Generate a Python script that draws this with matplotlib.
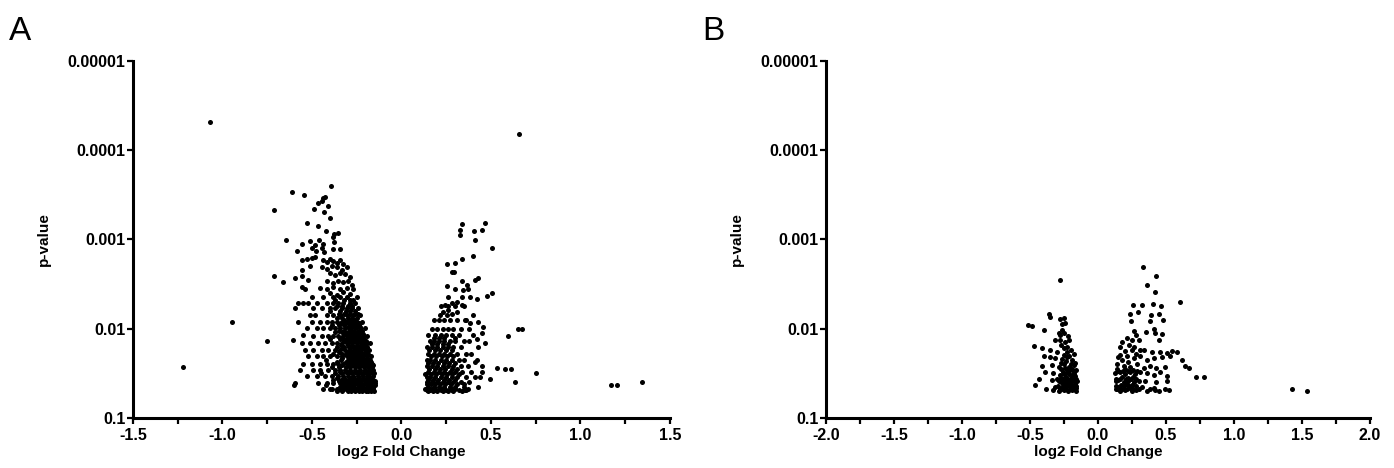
import numpy as np
import matplotlib
matplotlib.use('Agg')
import matplotlib.pyplot as plt
from matplotlib.ticker import MultipleLocator, NullLocator, FixedLocator

plt.rcParams['axes.unicode_minus'] = False
plt.rcParams['font.family'] = ['Liberation Sans', 'DejaVu Sans']

# points are (log2 fold change, -log10 p-value)
# panel A, negative side, scattered points
a_left = [(-1.071, 4.32), (-0.946, 2.07), (-0.754, 1.86), (-1.223, 1.57), (-0.714, 3.33),
          (-0.714, 2.59), (-0.664, 2.52), (-0.602, 1.37),
          (-0.396, 3.60), (-0.61, 3.53), (-0.546, 3.50), (-0.43, 3.48), (-0.44, 3.46), (-0.445, 3.43),
          (-0.465, 3.41), (-0.41, 3.38), (-0.49, 3.34), (-0.435, 3.31), (-0.40, 3.24), (-0.53, 3.19),
          (-0.468, 3.15), (-0.42, 3.10), (-0.375, 3.06), (-0.353, 3.07), (-0.38, 3.03),
          (-0.645, 2.99), (-0.51, 2.98), (-0.46, 2.99), (-0.556, 2.95), (-0.375, 2.97), (-0.483, 2.94),
          (-0.437, 2.95), (-0.50, 2.90), (-0.446, 2.90), (-0.478, 2.87), (-0.433, 2.86), (-0.38, 2.89),
          (-0.342, 2.89), (-0.582, 2.87),
          (-0.553, 2.77), (-0.53, 2.78), (-0.50, 2.79), (-0.483, 2.80), (-0.437, 2.77), (-0.418, 2.75),
          (-0.40, 2.78), (-0.38, 2.76), (-0.362, 2.74), (-0.344, 2.77), (-0.326, 2.73),
          (-0.446, 2.69), (-0.418, 2.67), (-0.39, 2.70), (-0.362, 2.69), (-0.334, 2.66), (-0.307, 2.69),
          (-0.558, 2.66), (-0.51, 2.70),
          (-0.558, 2.59), (-0.595, 2.57), (-0.52, 2.55), (-0.40, 2.62), (-0.372, 2.60), (-0.344, 2.63),
          (-0.316, 2.61), (-0.288, 2.58),
          (-0.418, 2.53), (-0.38, 2.51), (-0.353, 2.54), (-0.326, 2.52), (-0.297, 2.53), (-0.279, 2.49),
          (-0.558, 2.47), (-0.539, 2.45), (-0.455, 2.46), (-0.418, 2.44), (-0.38, 2.47), (-0.344, 2.45),
          (-0.307, 2.46), (-0.27, 2.44),
          (-0.40, 2.40), (-0.362, 2.38), (-0.326, 2.41), (-0.288, 2.39),
          (-0.549, 1.93), (-0.608, 1.87)]

# panel A, negative side, dense part: (-log10 p, [log2 FC ...])
a_left_rows = [
    (2.36, [-0.50, -0.437, -0.38, -0.344, -0.307, -0.25]),
    (2.32, [-0.37, -0.32, -0.29, -0.27]),
    (2.29, [-0.577, -0.549, -0.52, -0.474, -0.418, -0.38, -0.353, -0.326, -0.288, -0.26]),
    (2.26, [-0.36, -0.33, -0.30, -0.275]),
    (2.23, [-0.595, -0.493, -0.446, -0.40, -0.372, -0.334, -0.307, -0.279, -0.242]),
    (2.20, [-0.40, -0.345, -0.31, -0.285, -0.26]),
    (2.17, [-0.35, -0.32, -0.29, -0.26, -0.245]),
    (2.15, [-0.511, -0.483, -0.418, -0.38, -0.344, -0.307, -0.27, -0.232]),
    (2.12, [-0.36, -0.33, -0.30, -0.275, -0.25]),
    (2.10, [-0.32, -0.29, -0.265]),
    (2.08, [-0.577, -0.50, -0.455, -0.418, -0.39, -0.362, -0.334, -0.307, -0.279, -0.25, -0.223]),
    (2.06, [-0.34, -0.31, -0.285, -0.26, -0.24]),
    (2.04, [-0.39, -0.35, -0.32, -0.29, -0.265, -0.24]),
    (2.02, [-0.30, -0.275, -0.25, -0.23]),
    (2.005, [-0.53, -0.474, -0.437, -0.40, -0.372, -0.344, -0.316, -0.288, -0.26, -0.232, -0.204]),
    (1.98, [-0.35, -0.32, -0.29, -0.265, -0.24, -0.22]),
    (1.96, [-0.37, -0.33, -0.30, -0.275, -0.25, -0.225]),
    (1.94, [-0.31, -0.285, -0.26, -0.235, -0.215]),
    (1.92, [-0.493, -0.446, -0.409, -0.38, -0.353, -0.326, -0.297, -0.27, -0.242, -0.214, -0.19]),
    (1.90, [-0.335, -0.30, -0.275, -0.25, -0.225]),
    (1.88, [-0.40, -0.345, -0.31, -0.285, -0.26, -0.235, -0.21]),
    (1.86, [-0.32, -0.29, -0.265, -0.24, -0.215, -0.20]),
    (1.84, [-0.558, -0.511, -0.465, -0.427, -0.39, -0.362, -0.334, -0.307, -0.279, -0.25, -0.223,
            -0.195, -0.177]),
    (1.82, [-0.34, -0.30, -0.275, -0.25, -0.225, -0.205]),
    (1.80, [-0.36, -0.32, -0.295, -0.27, -0.245, -0.22, -0.195]),
    (1.78, [-0.33, -0.285, -0.26, -0.235, -0.21, -0.19]),
    (1.76, [-0.539, -0.493, -0.446, -0.409, -0.372, -0.344, -0.316, -0.288, -0.26, -0.232, -0.204,
            -0.18]),
    (1.74, [-0.35, -0.30, -0.275, -0.25, -0.225, -0.20, -0.19]),
    (1.72, [-0.38, -0.33, -0.31, -0.285, -0.26, -0.235, -0.21, -0.185]),
    (1.69, [-0.52, -0.474, -0.437, -0.40, -0.362, -0.334, -0.307, -0.279, -0.25, -0.223, -0.195,
            -0.173]),
    (1.67, [-0.33, -0.29, -0.265, -0.24, -0.215, -0.19]),
    (1.65, [-0.42, -0.34, -0.30, -0.275, -0.25, -0.225, -0.20, -0.175]),
    (1.63, [-0.36, -0.31, -0.285, -0.26, -0.235, -0.21, -0.19, -0.17]),
    (1.61, [-0.549, -0.50, -0.455, -0.418, -0.38, -0.353, -0.326, -0.297, -0.27, -0.242, -0.214,
            -0.186, -0.167]),
    (1.59, [-0.33, -0.30, -0.275, -0.25, -0.225, -0.20, -0.18, -0.16]),
    (1.57, [-0.39, -0.35, -0.31, -0.285, -0.26, -0.235, -0.21, -0.185, -0.165]),
    (1.54, [-0.567, -0.493, -0.455, -0.409, -0.372, -0.344, -0.316, -0.288, -0.26, -0.232, -0.204,
            -0.18, -0.158]),
    (1.52, [-0.345, -0.31, -0.285, -0.26, -0.235, -0.21, -0.19, -0.165]),
    (1.50, [-0.45, -0.37, -0.33, -0.30, -0.275, -0.25, -0.225, -0.20, -0.175, -0.155]),
    (1.47, [-0.53, -0.474, -0.427, -0.39, -0.353, -0.326, -0.297, -0.27, -0.242, -0.214, -0.186,
            -0.158]),
    (1.45, [-0.36, -0.32, -0.29, -0.265, -0.24, -0.215, -0.19, -0.17]),
    (1.43, [-0.38, -0.34, -0.31, -0.285, -0.26, -0.235, -0.21, -0.185, -0.16]),
    (1.41, [-0.35, -0.325, -0.30, -0.275, -0.25, -0.225, -0.20, -0.18, -0.165, -0.15]),
    (1.39, [-0.595, -0.465, -0.418, -0.38, -0.344, -0.316, -0.288, -0.26, -0.232, -0.204, -0.177,
            -0.148]),
    (1.37, [-0.42, -0.33, -0.30, -0.27, -0.245, -0.22, -0.195, -0.17, -0.15]),
    (1.35, [-0.345, -0.315, -0.29, -0.265, -0.24, -0.215, -0.19, -0.175, -0.16]),
    (1.33, [-0.39, -0.35, -0.31, -0.28, -0.255, -0.23, -0.205, -0.18, -0.16]),
    (1.32, [-0.437, -0.40, -0.362, -0.326, -0.297, -0.27, -0.242, -0.214, -0.186, -0.158]),
    (1.30, [-0.36, -0.33, -0.30, -0.28, -0.26, -0.24, -0.22, -0.20, -0.185, -0.17, -0.155]),
]

# panel A, positive side, scattered points
a_right = [(0.659, 4.18), (0.336, 3.17), (0.466, 3.19), (0.327, 3.11), (0.327, 3.05), (0.407, 3.10),
           (0.448, 3.11), (0.41, 2.99), (0.504, 2.90), (0.40, 2.81), (0.336, 2.78), (0.30, 2.74),
           (0.256, 2.72), (0.28, 2.64), (0.295, 2.64), (0.336, 2.53), (0.364, 2.49), (0.41, 2.55),
           (0.43, 2.57), (0.256, 2.48), (0.299, 2.45), (0.345, 2.43), (0.373, 2.44), (0.504, 2.40),
           (0.476, 2.37), (0.42, 2.33), (0.261, 2.36), (0.336, 2.36), (0.383, 2.36), (0.28, 2.29),
           (0.308, 2.30), (0.336, 2.27), (0.243, 2.27), (0.261, 2.21), (0.233, 2.19), (0.215, 2.15),
           (0.252, 2.15), (0.28, 2.17), (0.308, 2.19), (0.40, 2.15), (0.43, 2.08), (0.457, 2.02),
           (0.355, 2.10), (0.383, 2.06),
           (0.594, 1.92), (0.649, 2.0), (0.674, 2.0), (0.466, 1.84), (0.42, 1.89), (0.448, 1.95),
           (0.532, 1.56), (0.58, 1.55), (0.61, 1.55), (0.495, 1.44), (0.355, 1.31), (0.373, 1.32),
           (0.41, 1.63), (0.448, 1.52), (0.751, 1.50), (0.634, 1.40), (1.168, 1.37), (1.205, 1.37),
           (1.343, 1.40)]

# panel A, positive side, dense part
a_right_rows = [
    (2.25, [0.22, 0.26, 0.30, 0.35]),
    (2.10, [0.18, 0.21, 0.24, 0.27, 0.31, 0.36]),
    (2.00, [0.17, 0.20, 0.23, 0.26, 0.29, 0.33, 0.38]),
    (1.93, [0.15, 0.19, 0.22, 0.25, 0.28, 0.32, 0.40]),
    (1.90, [0.18, 0.21, 0.24, 0.30]),
    (1.86, [0.16, 0.18, 0.21, 0.24, 0.27, 0.30, 0.35, 0.38]),
    (1.83, [0.17, 0.20, 0.23, 0.26]),
    (1.79, [0.14, 0.17, 0.20, 0.23, 0.26, 0.29, 0.33, 0.43]),
    (1.76, [0.155, 0.185, 0.215, 0.25, 0.28]),
    (1.72, [0.15, 0.18, 0.21, 0.24, 0.27, 0.31, 0.36, 0.39]),
    (1.69, [0.165, 0.195, 0.225, 0.255, 0.29]),
    (1.65, [0.14, 0.16, 0.19, 0.22, 0.25, 0.28, 0.32, 0.35, 0.42]),
    (1.62, [0.15, 0.175, 0.205, 0.235, 0.265, 0.30]),
    (1.58, [0.14, 0.17, 0.20, 0.23, 0.26, 0.29, 0.33, 0.37, 0.45]),
    (1.55, [0.155, 0.185, 0.215, 0.245, 0.28, 0.31]),
    (1.52, [0.15, 0.18, 0.21, 0.24, 0.27, 0.30, 0.34, 0.39]),
    (1.49, [0.13, 0.165, 0.195, 0.225, 0.255, 0.285, 0.32]),
    (1.46, [0.14, 0.16, 0.19, 0.22, 0.25, 0.28, 0.31, 0.36, 0.41, 0.44]),
    (1.43, [0.15, 0.175, 0.205, 0.235, 0.265, 0.30]),
    (1.40, [0.14, 0.17, 0.20, 0.23, 0.26, 0.29, 0.33, 0.38]),
    (1.38, [0.145, 0.165, 0.19, 0.215, 0.245, 0.275, 0.31, 0.35]),
    (1.35, [0.15, 0.18, 0.21, 0.24, 0.27, 0.30, 0.35, 0.43]),
    (1.33, [0.13, 0.165, 0.19, 0.215, 0.24, 0.27, 0.30]),
    (1.31, [0.14, 0.16, 0.19, 0.22, 0.25, 0.28, 0.32, 0.36]),
    (1.30, [0.15, 0.175, 0.20, 0.23, 0.26, 0.29, 0.34]),
]

# panel B
b_left = [(-0.28, 2.55), (-0.363, 2.17), (-0.35, 2.13), (-0.276, 2.11), (-0.25, 2.12), (-0.24, 2.06),
          (-0.265, 2.05), (-0.511, 2.04), (-0.486, 2.03), (-0.40, 1.99), (-0.265, 1.99), (-0.276, 1.93),
          (-0.25, 1.95), (-0.316, 1.87), (-0.276, 1.87), (-0.24, 1.85), (-0.216, 1.87), (-0.474, 1.81),
          (-0.41, 1.78), (-0.35, 1.76), (-0.25, 1.78), (-0.30, 1.74), (-0.226, 1.74), (-0.20, 1.76),
          (-0.40, 1.69), (-0.35, 1.68), (-0.316, 1.67), (-0.265, 1.66), (-0.226, 1.68), (-0.19, 1.65),
          (-0.41, 1.58), (-0.34, 1.59), (-0.29, 1.57), (-0.25, 1.60), (-0.216, 1.57), (-0.18, 1.59),
          (-0.39, 1.52), (-0.33, 1.50), (-0.276, 1.48), (-0.226, 1.52), (-0.19, 1.48), (-0.165, 1.54),
          (-0.43, 1.44), (-0.34, 1.43), (-0.29, 1.41), (-0.25, 1.43), (-0.216, 1.41), (-0.18, 1.43),
          (-0.155, 1.41), (-0.46, 1.37), (-0.38, 1.33), (-0.316, 1.35), (-0.276, 1.33), (-0.24, 1.35),
          (-0.20, 1.33), (-0.165, 1.34), (-0.33, 1.31), (-0.29, 1.30), (-0.25, 1.31), (-0.22, 1.30),
          (-0.19, 1.31), (-0.16, 1.30),
          (-0.26, 1.38), (-0.23, 1.39), (-0.21, 1.37), (-0.17, 1.38), (-0.27, 1.45), (-0.235, 1.46),
          (-0.20, 1.45), (-0.17, 1.47), (-0.26, 1.52), (-0.21, 1.53), (-0.175, 1.51), (-0.245, 1.56),
          (-0.20, 1.60), (-0.17, 1.62), (-0.27, 1.62), (-0.235, 1.64), (-0.21, 1.70), (-0.25, 1.71),
          (-0.18, 1.72), (-0.23, 1.80), (-0.27, 1.82), (-0.29, 1.95), (-0.22, 1.92)]

b_left_rows = [
    (1.32, [-0.27, -0.235, -0.205, -0.175]),
    (1.36, [-0.295, -0.255, -0.225, -0.19, -0.16]),
    (1.40, [-0.27, -0.24, -0.20, -0.17]),
    (1.44, [-0.30, -0.26, -0.225, -0.195, -0.16]),
    (1.49, [-0.25, -0.21, -0.18]),
    (1.55, [-0.27, -0.23, -0.19]),
]

b_right = [(0.33, 2.69), (0.43, 2.59), (0.357, 2.49), (0.418, 2.41), (0.60, 2.30), (0.255, 2.27),
           (0.325, 2.27), (0.403, 2.28), (0.46, 2.25), (0.237, 2.17), (0.294, 2.19), (0.39, 2.15),
           (0.448, 2.17), (0.243, 2.09), (0.38, 2.09), (0.48, 2.10), (0.41, 2.0), (0.263, 1.97),
           (0.35, 1.96), (0.42, 1.95), (0.47, 1.94), (0.278, 1.93), (0.213, 1.90), (0.25, 1.87),
           (0.176, 1.85), (0.30, 1.87), (0.447, 1.87), (0.165, 1.79), (0.263, 1.79), (0.25, 1.76),
           (0.31, 1.76), (0.335, 1.76), (0.396, 1.74), (0.457, 1.74), (0.506, 1.73), (0.543, 1.75),
           (0.58, 1.74), (0.165, 1.71), (0.213, 1.69), (0.263, 1.67), (0.31, 1.69), (0.36, 1.65),
           (0.41, 1.67), (0.47, 1.68), (0.53, 1.69), (0.617, 1.65), (0.64, 1.58), (0.667, 1.56),
           (0.14, 1.61), (0.19, 1.58), (0.237, 1.57), (0.287, 1.60), (0.335, 1.56), (0.385, 1.58),
           (0.43, 1.56), (0.494, 1.57), (0.72, 1.46), (0.78, 1.46), (0.125, 1.50), (0.165, 1.52),
           (0.20, 1.49), (0.237, 1.51), (0.273, 1.49), (0.31, 1.51), (0.36, 1.50), (0.41, 1.48),
           (0.457, 1.51), (0.506, 1.47), (0.13, 1.41), (0.15, 1.43), (0.19, 1.40), (0.224, 1.42),
           (0.263, 1.40), (0.30, 1.42), (0.346, 1.41), (0.43, 1.40), (0.506, 1.42), (0.13, 1.33),
           (0.15, 1.35), (0.19, 1.33), (0.237, 1.34), (0.30, 1.33), (0.32, 1.35), (0.385, 1.33),
           (0.41, 1.34), (0.494, 1.33), (0.52, 1.31), (0.16, 1.30), (0.20, 1.31), (0.25, 1.30),
           (0.28, 1.31), (0.36, 1.30), (0.42, 1.31), (0.45, 1.30), (1.428, 1.33), (1.533, 1.30),
           (0.17, 1.37), (0.21, 1.38), (0.25, 1.37), (0.18, 1.46), (0.22, 1.45), (0.26, 1.46),
           (0.14, 1.55), (0.20, 1.55), (0.26, 1.54), (0.22, 1.63), (0.18, 1.65), (0.15, 1.68),
           (0.28, 1.72), (0.20, 1.75), (0.23, 1.82)]

b_right_rows = [
    (1.32, [0.14, 0.17, 0.215, 0.26]),
    (1.36, [0.13, 0.19, 0.23, 0.28]),
    (1.44, [0.13, 0.165, 0.205, 0.245, 0.28]),
    (1.53, [0.15, 0.185, 0.22, 0.29]),
]

ytick_vals = [0.1, 0.01, 0.001, 0.0001, 0.00001]
ytick_labels = ['0.1', '0.01', '0.001', '0.0001', '0.00001']


def collect(points, rows):
    xs = [p[0] for p in points]
    ys = [p[1] for p in points]
    for y, row in rows:
        xs += row
        ys += [y] * len(row)
    return np.array(xs), 10.0 ** -np.array(ys)


def style(ax, xmin, xmax):
    ax.set_yscale('log')
    ax.set_ylim(0.1, 0.00001)
    ax.yaxis.set_major_locator(FixedLocator(ytick_vals))
    ax.set_yticklabels(ytick_labels)
    ax.yaxis.set_minor_locator(NullLocator())
    ax.set_xlim(xmin, xmax)
    ax.xaxis.set_major_locator(MultipleLocator(0.5))
    ax.xaxis.set_minor_locator(MultipleLocator(0.25))
    ax.xaxis.set_major_formatter(plt.FormatStrFormatter('%.1f'))
    for s in ['top', 'right']:
        ax.spines[s].set_visible(False)
    for s in ['left', 'bottom']:
        ax.spines[s].set_linewidth(2.2)
    ax.tick_params(which='both', direction='out', width=1.6, length=4)
    ax.tick_params(axis='y', pad=1.5)
    ax.tick_params(axis='x', pad=3.5)
    ax.tick_params(axis='both', labelsize=11.5)
    for lab in ax.get_xticklabels() + ax.get_yticklabels():
        lab.set_fontweight('bold')
    ax.set_xlabel('log2 Fold Change', fontsize=11, fontweight='bold', labelpad=1)
    ax.set_ylabel('p-value', fontsize=11, fontweight='bold', labelpad=12)


fig = plt.figure(figsize=(13.94, 4.68), dpi=100)
ax_a = fig.add_axes([0.0954, 0.1068, 0.3852, 0.763])
ax_b = fig.add_axes([0.5925, 0.1068, 0.3903, 0.763])

xa, pa = collect(a_left + a_right, a_left_rows + a_right_rows)
ax_a.scatter(xa, pa, s=13, c='black', linewidths=0, clip_on=False)
style(ax_a, -1.5, 1.5)

xb, pb = collect(b_left + b_right, b_left_rows + b_right_rows)
ax_b.scatter(xb, pb, s=13, c='black', linewidths=0, clip_on=False)
style(ax_b, -2.0, 2.0)

fig.text(0.0065, 0.9145, 'A', fontsize=24)
fig.text(0.5036, 0.9145, 'B', fontsize=24)

fig.savefig('out.png', dpi=100, facecolor='white')
